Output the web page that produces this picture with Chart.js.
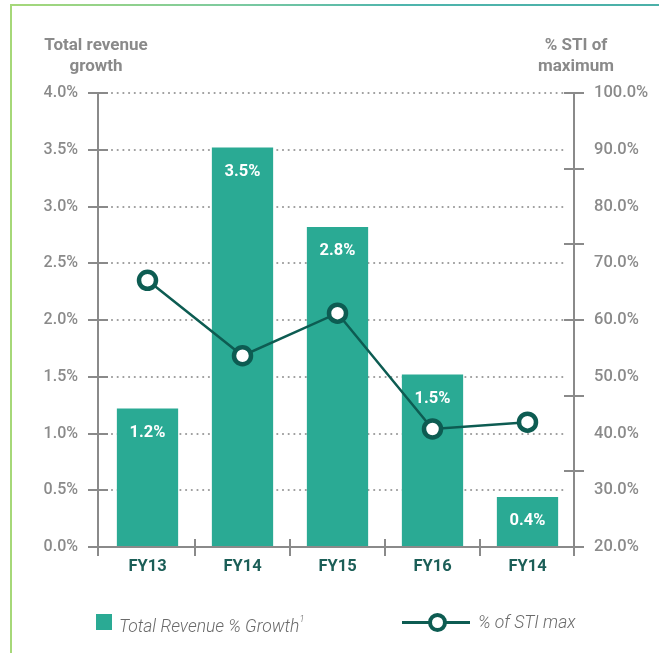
<!DOCTYPE html>
<html>
<head>
<meta charset="utf-8">
<script src="https://cdn.jsdelivr.net/npm/chart.js@4.4.1/dist/chart.umd.min.js"></script>
<style>
  html, body { margin: 0; padding: 0; background: #fff; }
  #wrap { position: relative; width: 659px; height: 653px; overflow: hidden; font-family: Roboto, "Open Sans", sans-serif; }
  #frameTop { position: absolute; left: 10px; top: 4px; width: 649px; height: 2px; background: linear-gradient(to right, #a6d879, #7ccaa0 35%, #4fb5ad 60%, #4bb0a8); }
  #frameLeft { position: absolute; left: 10px; top: 4px; width: 2px; height: 649px; background: #a6d879; }
  canvas { position: absolute; left: 0; top: 0; }
  .title { position: absolute; color: #8a8a8a; font-weight: 700; font-size: 17px; line-height: 21px; text-align: center; }
  #tl { left: 26px; top: 34px; width: 140px; }
  #tr { left: 506px; top: 34px; width: 140px; }
  .leg { position: absolute; top: 611px; font-style: italic; font-weight: 300; font-size: 17.5px; color: #6a6a6a; line-height: 22px; }
  #legBarSw { position: absolute; left: 96px; top: 614px; width: 16px; height: 16px; background: #2aaa94; }
  #legBarTx { left: 119px; }
  #legBarTx sup { font-size: 9px; position: relative; top: -3px; }
  #legLine { position: absolute; left: 402px; top: 621px; width: 68px; height: 3px; background: #0d5c52; }
  #legDot { position: absolute; left: 428px; top: 613px; width: 11px; height: 11px; border: 4px solid #0d5c52; border-radius: 50%; background: #fff; }
  #legLineTx { left: 478px; }
</style>
</head>
<body>
<div id="wrap">
  <div id="frameTop"></div>
  <div id="frameLeft"></div>
  <canvas id="c" width="659" height="653"></canvas>
  <div class="title" id="tl">Total revenue<br>growth</div>
  <div class="title" id="tr">% STI of<br>maximum</div>
  <div id="legBarSw"></div>
  <div class="leg" id="legBarTx">Total Revenue % Growth<sup>1</sup></div>
  <div id="legLine"></div>
  <div id="legDot"></div>
  <div class="leg" id="legLineTx">% of STI max</div>
</div>
<script>
// ---- data ----
const categories = ["FY13", "FY14", "FY15", "FY16", "FY14"];
const revenueGrowth = [1.22, 3.52, 2.82, 1.52, 0.44];   // % (left axis)
const stiOfMax = [67.0, 53.7, 61.2, 40.8, 42.0];        // % (right axis)
const leftTicks = [0, 0.5, 1.0, 1.5, 2.0, 2.5, 3.0, 3.5, 4.0];
const rightTicks = [20, 30, 40, 50, 60, 70, 80, 90, 100];
const rightMarkCount = 6; // tick marks on right axis divide it in 6

const AXIS = '#8a8a8a';
const BAR = '#2aaa94';
const LINE = '#0d5c52';

const axesPlugin = {
  id: 'axesPlugin',
  beforeDatasetsDraw(chart) {
    const ctx = chart.ctx, y = chart.scales.y, a = chart.chartArea;
    ctx.save();
    ctx.strokeStyle = '#9a9a9a';
    ctx.lineWidth = 2.2;
    ctx.lineCap = 'round';
    ctx.setLineDash([0, 5.7]);
    leftTicks.forEach(v => {
      if (v === 0) return;
      const py = Math.round(y.getPixelForValue(v));
      ctx.beginPath();
      ctx.moveTo(a.left + 12, py);
      ctx.lineTo(a.right - 8, py);
      ctx.stroke();
    });
    ctx.restore();
  },
  afterDatasetsDraw(chart) {
    const ctx = chart.ctx, x = chart.scales.x, y = chart.scales.y, y1 = chart.scales.y1, a = chart.chartArea;
    ctx.save();
    ctx.strokeStyle = AXIS;
    ctx.lineWidth = 2;
    ctx.lineCap = 'butt';
    const L = a.left - 2, R = a.right - 1, B = a.bottom, T = a.top;
    ctx.beginPath();
    // left axis
    ctx.moveTo(L, T); ctx.lineTo(L, B + 9);
    leftTicks.forEach(v => { const py = Math.round(y.getPixelForValue(v)); ctx.moveTo(L - 10, py); ctx.lineTo(L + 10, py); });
    // right axis
    ctx.moveTo(R, T); ctx.lineTo(R, B + 9);
    for (let k = 0; k <= rightMarkCount; k++) {
      const v = y1.min + (y1.max - y1.min) * k / rightMarkCount;
      const py = Math.round(y1.getPixelForValue(v));
      ctx.moveTo(R - 10, py); ctx.lineTo(R + 10, py);
    }
    // bottom axis
    ctx.moveTo(L - 10, B); ctx.lineTo(R + 10, B);
    for (let i = 1; i < categories.length; i++) {
      const px = Math.round((x.getPixelForValue(i - 1) + x.getPixelForValue(i)) / 2);
      ctx.moveTo(px, B - 8); ctx.lineTo(px, B + 9);
    }
    ctx.stroke();
    // bar value labels
    const meta = chart.getDatasetMeta(0);
    ctx.fillStyle = '#ffffff';
    ctx.font = '700 16.5px Roboto, sans-serif';
    ctx.textAlign = 'center';
    ctx.textBaseline = 'middle';
    meta.data.forEach((bar, i) => {
      ctx.fillText(revenueGrowth[i].toFixed(1) + '%', bar.x, bar.y + 24);
    });
    ctx.restore();
  }
};

new Chart(document.getElementById('c'), {
  data: {
    labels: categories,
    datasets: [
      {
        type: 'bar',
        label: 'Total Revenue % Growth',
        data: revenueGrowth,
        backgroundColor: BAR,
        yAxisID: 'y',
        barPercentage: 0.645,
        categoryPercentage: 1.0,
        order: 2
      },
      {
        type: 'line',
        label: '% of STI max',
        data: stiOfMax,
        yAxisID: 'y1',
        borderColor: LINE,
        borderWidth: 2.5,
        pointRadius: 8.5,
        pointBorderWidth: 4.5,
        pointBackgroundColor: '#ffffff',
        pointBorderColor: LINE,
        tension: 0,
        order: 1
      }
    ]
  },
  options: {
    responsive: false,
    animation: false,
    devicePixelRatio: 1,
    layout: { padding: { top: 93, left: 0, right: 0, bottom: 0 } },
    plugins: { legend: { display: false }, tooltip: { enabled: false } },
    scales: {
      x: {
        type: 'category',
        offset: true,
        grid: { display: false, drawTicks: false },
        border: { display: false },
        ticks: { color: '#1b5e57', font: { family: 'Roboto', weight: '700', size: 16.5 }, padding: 10 },
        afterFit(s) { s.height = 106; }
      },
      y: {
        position: 'left',
        min: 0, max: 4,
        afterBuildTicks(s) { s.ticks = leftTicks.map(v => ({ value: v })); },
        grid: { display: false, drawTicks: false },
        border: { display: false },
        ticks: { color: AXIS, font: { family: 'Roboto', weight: '500', size: 16 }, padding: 22,
                 callback: v => Number(v).toFixed(1) + '%' },
        afterFit(s) { s.width = 100; }
      },
      y1: {
        position: 'right',
        min: 20, max: 100,
        afterBuildTicks(s) { s.ticks = rightTicks.map(v => ({ value: v })); },
        grid: { display: false, drawTicks: false },
        border: { display: false },
        ticks: { color: AXIS, font: { family: 'Roboto', weight: '500', size: 16.5 }, padding: 19,
                 callback: v => Number(v).toFixed(1) + '%' },
        afterFit(s) { s.width = 84; }
      }
    }
  },
  plugins: [axesPlugin]
});
</script>
</body>
</html>
